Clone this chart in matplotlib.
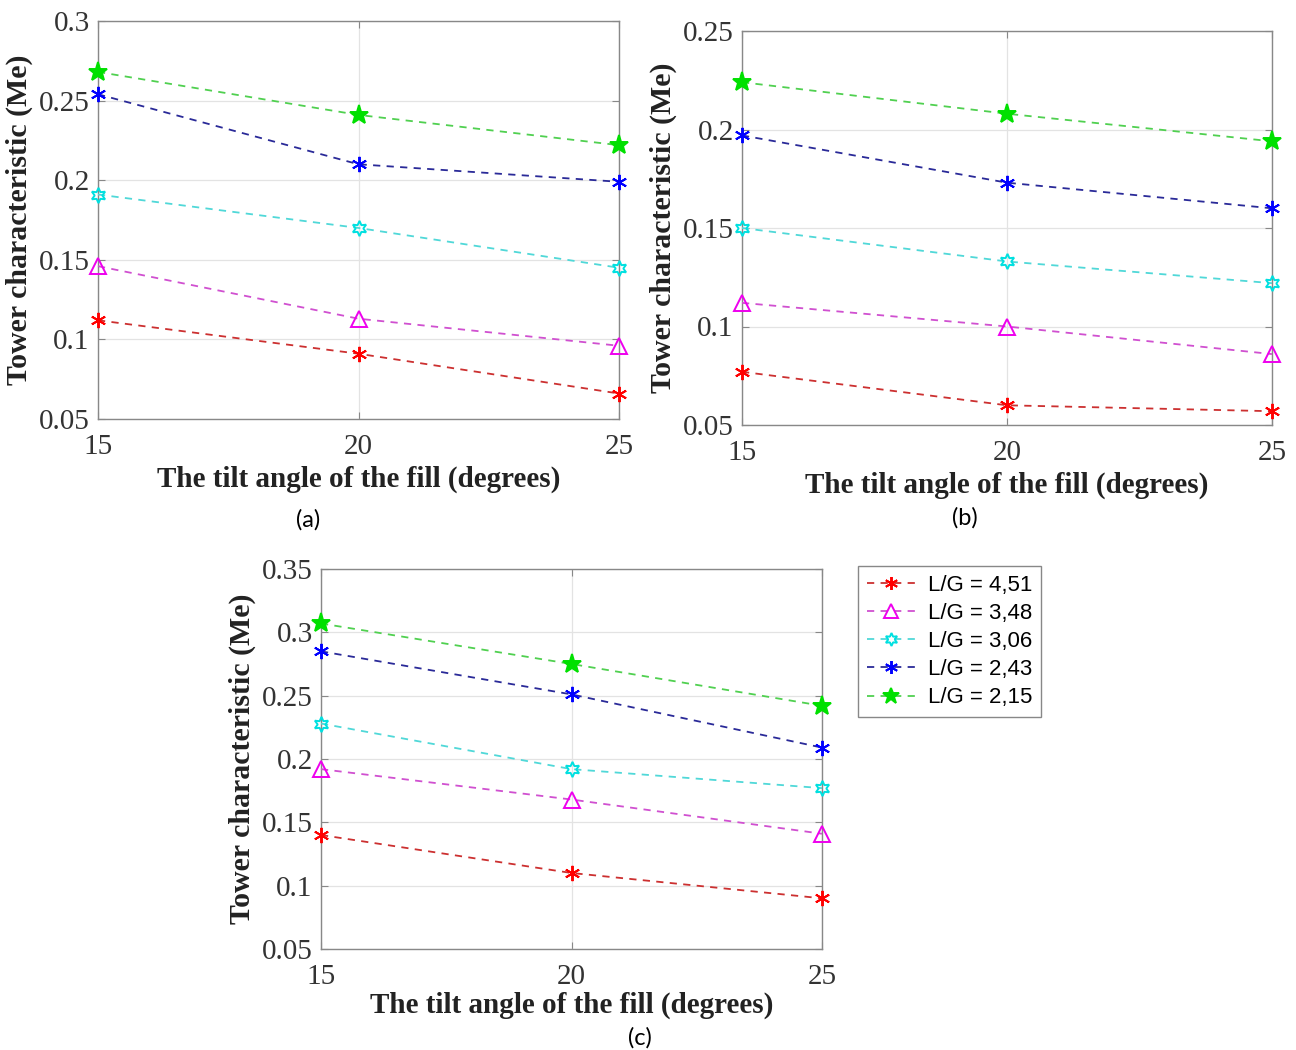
"""Tower characteristic (Me) vs fill tilt angle for five L/G ratios, three cases."""
import matplotlib
matplotlib.use("Agg")
import matplotlib.pyplot as plt

angles = [15, 20, 25]
series_labels = ["L/G = 4,51", "L/G = 3,48", "L/G = 3,06", "L/G = 2,43", "L/G = 2,15"]

# Me values per case, one row per L/G ratio (same order as series_labels)
me_a = [[0.112, 0.091, 0.066],
        [0.146, 0.113, 0.096],
        [0.191, 0.170, 0.145],
        [0.254, 0.210, 0.199],
        [0.268, 0.241, 0.222]]
me_b = [[0.077, 0.060, 0.057],
        [0.112, 0.100, 0.086],
        [0.150, 0.133, 0.122],
        [0.197, 0.173, 0.160],
        [0.224, 0.208, 0.194]]
me_c = [[0.140, 0.110, 0.090],
        [0.192, 0.168, 0.141],
        [0.228, 0.192, 0.177],
        [0.285, 0.251, 0.209],
        [0.307, 0.275, 0.242]]

yticks_a = [0.05, 0.1, 0.15, 0.2, 0.25, 0.3]
yticks_b = [0.05, 0.1, 0.15, 0.2, 0.25]
yticks_c = [0.05, 0.1, 0.15, 0.2, 0.25, 0.3, 0.35]

# marker colour, line colour, marker, hollow?
STYLES = [
    ("#ff0000", "#cc3030", (6, 2, 0), False),
    ("#ee00ee", "#d050d0", "^", True),
    ("#00e0e0", "#50d8d8", (6, 1, 0), True),
    ("#0000ff", "#2a2a98", (6, 2, 0), False),
    ("#00e000", "#50d050", "*", False),
]
SERIF = "Liberation Serif"
AX_GREY = "#888888"


def panel(rect, data, yticks, caption, cap_xy, xlabel_pad=6):
    ax = fig.add_axes(rect)
    for vals, label, (mc, lc, mk, hollow) in zip(data, series_labels, STYLES):
        size = 14 if mk == "*" else (12 if mk == "^" else 11)
        ax.plot(angles, vals, linestyle=(0, (4, 3.5)), color=lc, linewidth=1.3,
                marker=mk, markersize=size, markeredgecolor=mc,
                markerfacecolor="none" if hollow else mc,
                markeredgewidth=1.4, label=label, clip_on=False, zorder=3)
    ax.set_xlim(15, 25)
    ax.set_ylim(yticks[0], yticks[-1])
    ax.set_xticks(angles)
    ax.set_yticks(yticks)
    ax.set_yticklabels([f"{t:g}" for t in yticks])
    ax.grid(True, color="#e3e3e3", linewidth=0.9)
    ax.set_axisbelow(True)
    for s in ax.spines.values():
        s.set_color(AX_GREY)
        s.set_linewidth(1.0)
    ax.tick_params(direction="in", length=5, color=AX_GREY, top=True, right=True,
                   labelsize=21, labelcolor="#333333")
    ax.tick_params(axis="x", pad=11)
    ax.tick_params(axis="y", pad=6)
    for t in ax.get_xticklabels() + ax.get_yticklabels():
        t.set_family(SERIF)
    ax.set_xlabel("The tilt angle of the fill (degrees)", fontsize=21,
                  fontweight="bold", family=SERIF, color="#222222", labelpad=xlabel_pad)
    ax.set_ylabel("Tower characteristic (Me)", fontsize=21.5, fontweight="bold",
                  family=SERIF, color="#222222", labelpad=4)
    fig.text(cap_xy[0], cap_xy[1], caption, fontsize=17, family="Lato",
             ha="center", va="center")
    return ax


fig = plt.figure(figsize=(12.96, 10.5), dpi=100)

panel([98 / 1296, 1 - 419 / 1050, 521 / 1296, 398 / 1050], me_a, yticks_a,
      "(a)", (308 / 1296, 1 - 520 / 1050), xlabel_pad=4)
panel([742 / 1296, 1 - 425 / 1050, 530 / 1296, 394 / 1050], me_b, yticks_b,
      "(b)", (965 / 1296, 1 - 518 / 1050), xlabel_pad=4)
ax_c = panel([321 / 1296, 1 - 949 / 1050, 501 / 1296, 380 / 1050], me_c, yticks_c,
             "(c)", (640 / 1296, 1 - 1038 / 1050), xlabel_pad=1)

handles, labels = ax_c.get_legend_handles_labels()
leg = fig.legend(handles, labels, loc="upper left",
                 bbox_to_anchor=(858 / 1296, 1 - 566 / 1050), borderaxespad=0,
                 prop={"family": "Liberation Sans", "size": 16},
                 handlelength=2.2, handletextpad=0.55, labelspacing=0.32,
                 borderpad=0.4, fancybox=False, framealpha=1, markerscale=0.85)
leg.get_frame().set_edgecolor(AX_GREY)
leg.get_frame().set_linewidth(1.0)

fig.savefig("out.png", dpi=100)
